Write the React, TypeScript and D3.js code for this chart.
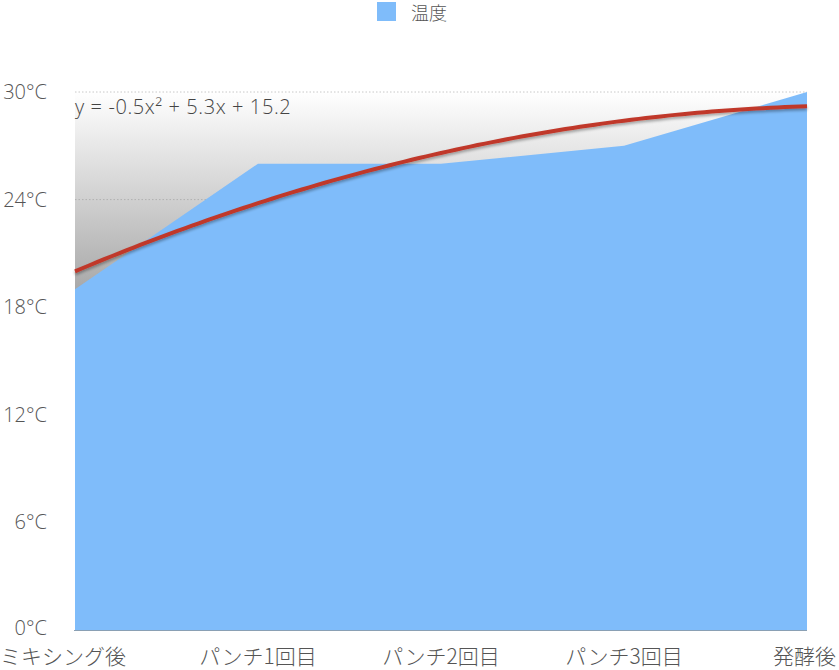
import React from "react";
import * as d3 from "d3";

const categories = ["ミキシング後", "パンチ1回目", "パンチ2回目", "パンチ3回目", "発酵後"];
const temperatures = [19, 26, 26, 27, 30];
const yTicks = [0, 6, 12, 18, 24, 30];
const seriesName = "温度";

const W = 839;
const H = 670;
const margin = { left: 75, right: 32, top: 92, bottom: 40 };
const FONT = "'Open Sans', 'Noto Sans CJK JP', sans-serif";
const CJK = "'Noto Sans CJK JP', sans-serif";

// least-squares quadratic fit with x = 1..n
function quadFit(ys: number[]) {
  const s = [0, 0, 0, 0, 0];
  const sy = [0, 0, 0];
  ys.forEach((yv, i) => {
    const xv = i + 1;
    for (let k = 0; k <= 4; k++) s[k] += Math.pow(xv, k);
    for (let k = 0; k <= 2; k++) sy[k] += Math.pow(xv, k) * yv;
  });
  const M = [
    [s[4], s[3], s[2], sy[2]],
    [s[3], s[2], s[1], sy[1]],
    [s[2], s[1], s[0], sy[0]],
  ];
  for (let i = 0; i < 3; i++) {
    for (let j = i + 1; j < 3; j++) {
      const f = M[j][i] / M[i][i];
      for (let k = i; k < 4; k++) M[j][k] -= f * M[i][k];
    }
  }
  const r = [0, 0, 0];
  for (let i = 2; i >= 0; i--) {
    let v = M[i][3];
    for (let k = i + 1; k < 3; k++) v -= M[i][k] * r[k];
    r[i] = v / M[i][i];
  }
  return { a: r[0], b: r[1], c: r[2] };
}

export default function App() {
  const x = d3
    .scalePoint<string>()
    .domain(categories)
    .range([margin.left, W - margin.right]);
  const y = d3.scaleLinear().domain([0, 30]).range([H - margin.bottom, margin.top]);

  const pts = categories.map((c, i) => ({ c, v: temperatures[i] }));
  const area = d3
    .area<{ c: string; v: number }>()
    .x((d) => x(d.c)!)
    .y0(y(0))
    .y1((d) => y(d.v));

  const fit = quadFit(temperatures);
  const xIdx = d3.scaleLinear().domain([1, categories.length]).range([margin.left, W - margin.right]);
  const samples = d3.range(0, 101).map((k) => 1 + (k / 100) * (categories.length - 1));
  const trend = d3
    .line<number>()
    .x((t) => xIdx(t))
    .y((t) => y(fit.a * t * t + fit.b * t + fit.c));
  const fmt = (v: number) => (Math.round(v * 10) / 10).toString();
  const eq = `y = ${fmt(fit.a)}x² + ${fmt(fit.b)}x + ${fmt(fit.c)}`;

  const plotL = margin.left;
  const plotR = W - margin.right;

  return (
    <svg width={W} height={H} style={{ position: "absolute", left: 0, top: 0, fontFamily: FONT }}>
      <defs>
        <linearGradient id="bg" x1="0" y1={y(30)} x2="0" y2={y(17)} gradientUnits="userSpaceOnUse">
          <stop offset="0" stopColor="#ffffff" />
          <stop offset="1" stopColor="#999999" />
        </linearGradient>
        <filter id="sh" x="-5%" y="-20%" width="110%" height="140%">
          <feGaussianBlur in="SourceAlpha" stdDeviation="1.5" />
          <feOffset dx="0" dy="2" result="b" />
          <feComponentTransfer>
            <feFuncA type="linear" slope="0.35" />
          </feComponentTransfer>
          <feMerge>
            <feMergeNode />
            <feMergeNode in="SourceGraphic" />
          </feMerge>
        </filter>
      </defs>

      {/* legend */}
      <rect x={377} y={2} width={19} height={19} fill="#7fbcfa" />
      <text x={411} y={12} dominantBaseline="central" fontSize={18} fill="#555" fontFamily={CJK} fontWeight={300}>{seriesName}</text>

      {/* background gradient */}
      <rect x={plotL} y={y(30)} width={plotR - plotL} height={y(0) - y(30)} fill="url(#bg)" />

      {/* grid */}
      {yTicks.filter((t) => t > 0).map((t) => (
        <line
          key={t}
          x1={plotL}
          x2={plotR}
          y1={y(t)}
          y2={y(t)}
          stroke={t === 30 ? "#c8c8c8" : "#b0b0b0"}
          strokeWidth={1}
          strokeDasharray="1.5,2"
        />
      ))}

      {/* area */}
      <path d={area(pts)!} fill="#7fbcfa" />

      {/* x axis line */}
      <line x1={plotL - 1} x2={plotR} y1={y(0) + 0.5} y2={y(0) + 0.5} stroke="#8aa0b4" strokeWidth={1} />

      {/* trendline */}
      <path d={trend(samples)!} fill="none" stroke="#c0392b" strokeWidth={4} filter="url(#sh)" />

      {/* equation */}
      <text x={plotL} y={114} fontSize={20} fill="#444" fontWeight={300} letterSpacing={0.6}>{eq}</text>

      {/* y tick labels */}
      {yTicks.map((t) => (
        <text
          key={t}
          x={47}
          y={t === 0 ? y(t) - 2 : y(t)}
          dy="0.35em"
          textAnchor="end"
          fontSize={20}
          fill="#555"
          fontWeight={300}
        >
          {`${t}°C`}
        </text>
      ))}

      {/* x tick labels */}
      {categories.map((c, i) => (
        <text
          key={c}
          x={i === 0 ? 0 : i === categories.length - 1 ? W - 3 : x(c)!}
          y={664}
          textAnchor={i === 0 ? "start" : i === categories.length - 1 ? "end" : "middle"}
          fontSize={21}
          fill="#555"
          fontFamily={CJK}
          fontWeight={300}
        >
          {c}
        </text>
      ))}
    </svg>
  );
}
